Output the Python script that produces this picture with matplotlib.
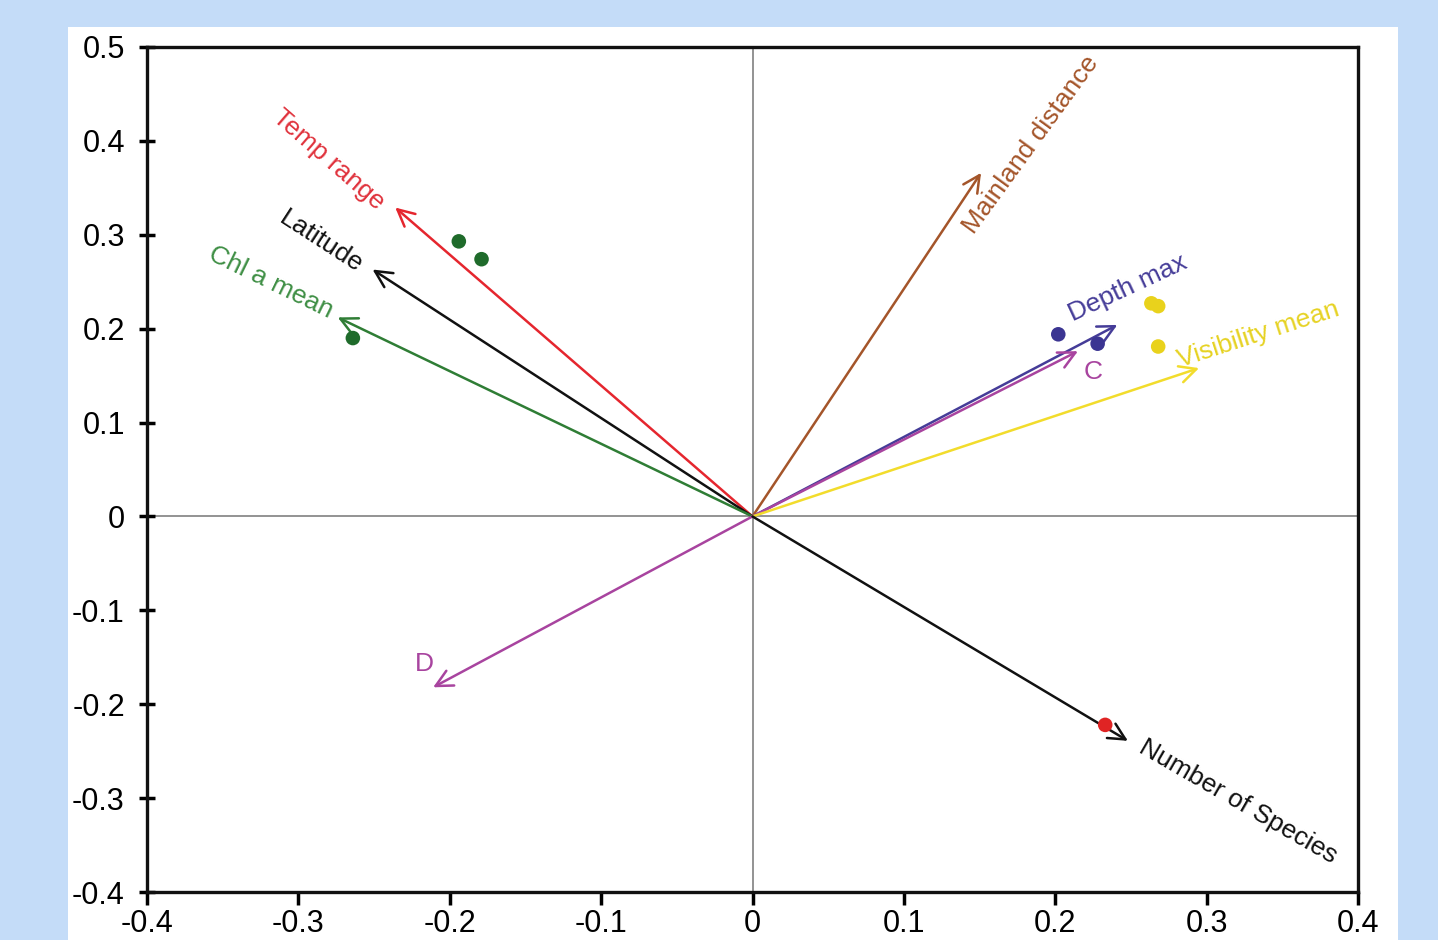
import matplotlib
matplotlib.use('Agg')
import matplotlib.pyplot as plt
from matplotlib.patches import Rectangle

plt.rcParams['font.family'] = ['Liberation Sans', 'DejaVu Sans']
plt.rcParams['axes.unicode_minus'] = False

# arrow tips (biplot vectors)
vec_names = ['Temp range', 'Latitude', 'Chl a mean', 'Mainland distance',
             'Depth max', 'C', 'Visibility mean', 'D', 'Number of Species']
vec_x = [-0.236, -0.251, -0.274, 0.151, 0.241, 0.215, 0.295, -0.211, 0.248]
vec_y = [0.329, 0.263, 0.212, 0.366, 0.204, 0.176, 0.158, -0.182, -0.239]
vec_colors = ['#e5262e', '#111111', '#2f7d35', '#a4552a', '#453c98',
              '#a8449f', '#f2dc2c', '#a8449f', '#111111']

# label placement
lab_x = [-0.280, -0.285, -0.318, 0.184, 0.248, 0.225, 0.334, -0.217, 0.321]
lab_y = [0.380, 0.293, 0.249, 0.396, 0.243, 0.154, 0.194, -0.157, -0.304]
lab_rot = [-41, -33, -26, 54, 25, 0, 18, 0, -30]
lab_colors = ['#e0323c', '#111111', '#3f8f45', '#a4552a', '#453c98',
              '#a8449f', '#e6d222', '#a8449f', '#111111']

# site points
pt_x = [-0.194, -0.179, -0.264, 0.202, 0.228, 0.2635, 0.268, 0.268, 0.233]
pt_y = [0.293, 0.274, 0.190, 0.194, 0.184, 0.227, 0.224, 0.181, -0.222]
pt_colors = ['#1f6b2b', '#1f6b2b', '#1f6b2b', '#3b3592', '#3b3592',
             '#e9d21c', '#e9d21c', '#e9d21c', '#e02424']

xticks = [-0.4, -0.3, -0.2, -0.1, 0, 0.1, 0.2, 0.3, 0.4]
yticks = [-0.4, -0.3, -0.2, -0.1, 0, 0.1, 0.2, 0.3, 0.4, 0.5]
xticklabels = ['-0.4', '-0.3', '-0.2', '-0.1', '0', '0.1', '0.2', '0.3', '0.4']
yticklabels = ['-0.4', '-0.3', '-0.2', '-0.1', '0', '0.1', '0.2', '0.3', '0.4', '0.5']

fig = plt.figure(figsize=(14.38, 9.40), dpi=100)
fig.patch.set_facecolor('#c4dcf8')
fig.add_artist(Rectangle((68 / 1438, 0), 1330 / 1438, 913 / 940,
                         transform=fig.transFigure, facecolor='white',
                         edgecolor='none', zorder=0))

ax = fig.add_axes([147 / 1438, 48 / 940, 1211 / 1438, 845 / 940])
ax.set_xlim(-0.4, 0.4)
ax.set_ylim(-0.4, 0.5)
ax.set_facecolor('white')

ax.axhline(0, color='#8a8a8a', lw=1.3, zorder=1)
ax.axvline(0, color='#8a8a8a', lw=1.3, zorder=1)

for i in range(len(vec_names)):
    ax.annotate('', xy=(vec_x[i], vec_y[i]), xytext=(0, 0),
                arrowprops=dict(arrowstyle='->', color=vec_colors[i], lw=1.8,
                                mutation_scale=30, shrinkA=0, shrinkB=0),
                zorder=3)
    ax.text(lab_x[i], lab_y[i], vec_names[i], color=lab_colors[i],
            fontsize=19, rotation=lab_rot[i], rotation_mode='anchor',
            ha='center', va='center', zorder=4)

ax.scatter(pt_x, pt_y, s=110, c=pt_colors, edgecolors='none', zorder=5)

ax.set_xticks(xticks)
ax.set_xticklabels(xticklabels)
ax.set_yticks(yticks)
ax.set_yticklabels(yticklabels)
ax.tick_params(axis='x', direction='out', length=9, width=2.5, labelsize=22,
               pad=3)
ax.tick_params(axis='y', direction='inout', length=12, width=2.5, labelsize=22,
               pad=10)
for s in ax.spines.values():
    s.set_linewidth(2.4)
    s.set_color('#111111')

fig.savefig('out.png', dpi=100, facecolor=fig.get_facecolor())
